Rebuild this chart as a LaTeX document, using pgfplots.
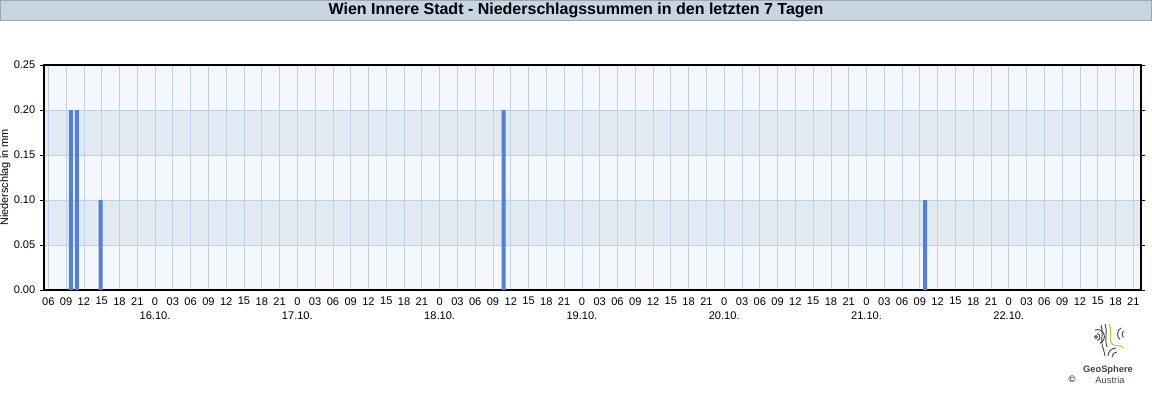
\documentclass[border=0pt]{standalone}
\usepackage{pgfplots}
\pgfplotsset{compat=1.18}
\usepackage{fontspec}
\setmainfont{Liberation Sans}
\definecolor{titlebg}{HTML}{C9D4E1}
\definecolor{titleedge}{HTML}{9AA8B8}
\definecolor{bandlight}{HTML}{F4F7FB}
\definecolor{banddark}{HTML}{E3E9F0}
\definecolor{gridblue}{HTML}{BCD2E8}
\definecolor{barblue}{HTML}{507FDC}
\definecolor{logogray}{HTML}{3C4650}
\definecolor{logolime}{HTML}{B4CC3C}
\begin{document}
\begin{tikzpicture}
\begin{scope}[x=0.75pt,y=0.75pt]
% title bar
\fill[titlebg] (0,379) rectangle (1152,400);
\draw[titleedge] (0.5,379.5) rectangle (1151.5,399.5);
\node[font=\bfseries\fontsize{12}{14}\selectfont] at (576,389.5) {Wien Innere Stadt - Niederschlagssummen in den letzten 7 Tagen};
\end{scope}

\begin{axis}[
    set layers=standard,
    at={(33pt,82.5pt)}, anchor=south west,
    scale only axis,
    width=822.75pt, height=168.75pt,
    xmin=5.27, xmax=190.3,
    ymin=0, ymax=0.25,
    axis line style={black, line width=0.8pt},
    xtick={6,9,...,189},
    xticklabels={06,09,12,15,18,21,{0\\16.10.},03,06,09,12,15,18,21,{0\\17.10.},03,06,09,12,15,18,21,{0\\18.10.},03,06,09,12,15,18,21,{0\\19.10.},03,06,09,12,15,18,21,{0\\20.10.},03,06,09,12,15,18,21,{0\\21.10.},03,06,09,12,15,18,21,{0\\22.10.},03,06,09,12,15,18,21},
    xticklabel style={font=\fontsize{8.3}{10.5}\selectfont, align=center, anchor=north, yshift=1pt},
    ytick={0,0.05,0.1,0.15,0.2,0.25},
    yticklabel style={font=\fontsize{8.3}{10}\selectfont, /pgf/number format/fixed, /pgf/number format/precision=2, /pgf/number format/fixed zerofill},
    /pgf/number format/assume math mode=true,
    scaled y ticks=false,
    xmajorgrids=true, ymajorgrids=true,
    grid style={gridblue, line width=0.6pt},
    x tick style={draw=none},
    y tick style={black, line width=0.6pt},
    tick align=outside,
    major tick length=3pt,
    ylabel={Niederschlag in mm},
    every axis y label/.style={at={(rel axis cs:0,0.5)}, xshift=-29pt, rotate=90, anchor=center, font=\fontsize{8.2}{9}\selectfont},
]
\begin{pgfonlayer}{axis background}
\fill[bandlight] (axis cs:5.27,0) rectangle (axis cs:190.3,0.25);
\fill[banddark] (axis cs:5.27,0.05) rectangle (axis cs:190.3,0.10);
\fill[banddark] (axis cs:5.27,0.15) rectangle (axis cs:190.3,0.20);
\end{pgfonlayer}
\addplot[ybar, bar width=3pt, fill=barblue, draw=none]
    coordinates {
    (9.8,0.2)(10.8,0.2)(14.8,0.1)(82.8,0.2)(153.9,0.1)
    };
\end{axis}

% logo
\begin{scope}[x=0.75pt,y=0.75pt]
\begin{scope}[logogray, line width=0.7pt]
\draw (1096,63) circle[radius=1.5];
\draw (1097,66.5) arc[start angle=80, end angle=-80, radius=3.6];
\draw (1095,70) arc[start angle=110, end angle=-70, radius=7];
\draw (1101,75) .. controls (1104,68) and (1100,60) .. (1103,52) .. controls (1104,48) and (1105,46) .. (1105,44);
\draw (1105,76) .. controls (1108,69) and (1104,61) .. (1107,53);
\draw (1121,72) arc[start angle=120, end angle=230, radius=7];
\draw (1124,69) arc[start angle=120, end angle=230, radius=4];
\draw (1108,44) arc[start angle=180, end angle=90, radius=8];
\draw (1112,43) arc[start angle=180, end angle=90, radius=5];
\end{scope}
\draw[logolime, line width=0.8pt] (1109,76) .. controls (1113,68) and (1108,60) .. (1112,56) .. controls (1115,53) and (1120,56) .. (1124,52);
\node[font=\bfseries\fontsize{7}{8}\selectfont, text=logogray] at (1108,30) {GeoSphere};
\node[font=\fontsize{7}{8}\selectfont, text=logogray] at (1110,20) {Austria};
\node[font=\fontsize{7}{8}\selectfont, text=black] at (1072,21) {\copyright};
\end{scope}
\pgfresetboundingbox
\path[use as bounding box] (0pt,0pt) rectangle (864pt,300pt);
\end{tikzpicture}
\end{document}
